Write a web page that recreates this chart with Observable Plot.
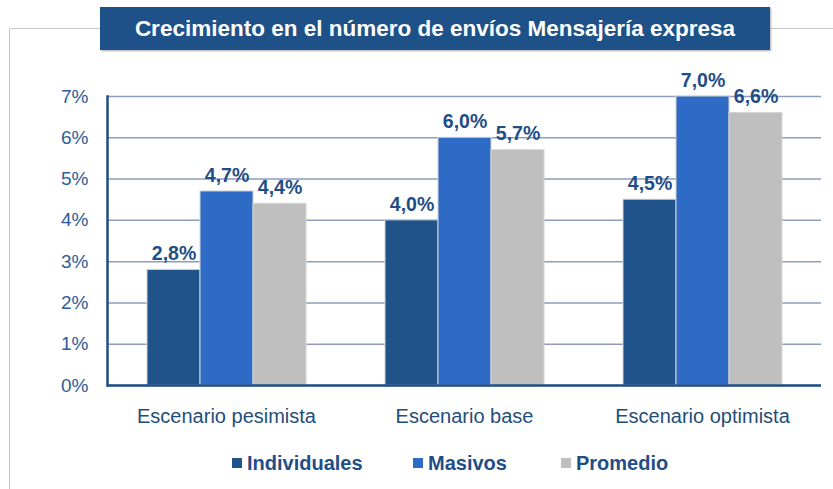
<!DOCTYPE html>
<html><head><meta charset="utf-8">
<script src="https://cdn.jsdelivr.net/npm/d3@7"></script>
<script src="https://cdn.jsdelivr.net/npm/@observablehq/plot@0.6"></script>
<style>
body{margin:0;background:#fff;font-family:"Liberation Sans",Arial,sans-serif;}
#wrap{position:relative;width:833px;height:489px;overflow:hidden;}
#frame{position:absolute;left:9px;top:28px;width:900px;height:500px;border-left:1.5px solid #c8c8c8;border-top:1.5px solid #c8c8c8;}
#title{position:absolute;left:100px;top:7px;width:670px;height:43px;background:#1F5189;color:#fff;font-weight:bold;font-size:22.5px;line-height:43px;text-align:center;box-shadow:1px 1px 2px #aaa;}
#chart{position:absolute;left:0;top:0;}
#legend{position:absolute;top:451px;left:0;width:833px;height:24px;font-weight:bold;font-size:20px;color:#1F4E87;}
.li{position:absolute;top:0;line-height:24px;}
.sw{display:inline-block;width:10px;height:10px;margin-right:5px;vertical-align:2px;}
</style></head>
<body><div id="wrap"><div id="frame"></div><div id="chart"></div><div id="title">Crecimiento en el número de envíos Mensajería expresa</div><div id="legend"></div></div>
<script>
const scenarios = ["Escenario pesimista", "Escenario base", "Escenario optimista"];
const series = ["Individuales", "Masivos", "Promedio"];
const individuales = [2.8, 4.0, 4.5];
const masivos = [4.7, 6.0, 7.0];
const promedio = [4.4, 5.7, 6.6];
const yTicks = [0, 1, 2, 3, 4, 5, 6, 7];
const colors = ["#1F538A", "#2E6BC6", "#BFBFBF"];

const valuesBySeries = [individuales, masivos, promedio];
const data = [];
scenarios.forEach((s, i) => series.forEach((k, j) => data.push({scenario: s, series: k, value: valuesBySeries[j][i]})));
const fmt = v => d3.format(".1f")(v).replace(".", ",") + "%";

const chart = Plot.plot({
  width: 833, height: 489,
  marginTop: 96, marginBottom: 104, marginLeft: 106, marginRight: 11,
  style: {fontFamily: '"Liberation Sans", Arial, sans-serif', background: "transparent", fontSize: "19px", color: "#2E5C99"},
  fx: {domain: scenarios, padding: 0, label: null, axis: null},
  x: {domain: series, paddingInner: 0, paddingOuter: 0.74, axis: null},
  y: {domain: [0, 7], label: null, axis: "left", ticks: yTicks, tickSize: 0, tickPadding: 19, tickFormat: d => d + "%"},
  color: {domain: series, range: colors},
  marks: [
    Plot.gridY(yTicks, {stroke: "#8D9DBD", strokeOpacity: 1, strokeWidth: 1.5}),
    Plot.barY(data, {fx: "scenario", x: "series", y: "value", fill: "series", stroke: "#D4D4D4", strokeWidth: 1}),
    Plot.text(data, {fx: "scenario", x: "series", y: "value", text: d => fmt(d.value), dy: -16, fill: "#1F4E87", fontWeight: "bold", fontSize: 19.5}),
    Plot.ruleY([0], {stroke: "#1F4E87", strokeWidth: 2.5}),
    Plot.frame({anchor: "left", facetAnchor: "left", stroke: "#1F4E87", strokeWidth: 2.5}),
    Plot.axisFx({anchor: "bottom", tickSize: 0, tickPadding: 23, fontSize: 20, fill: "#1F4E79", label: null})
  ]
});
document.getElementById("chart").appendChild(chart);

const legendPos = [232, 413, 561];
const lg = document.getElementById("legend");
series.forEach((s, i) => {
  const d = document.createElement("div");
  d.className = "li";
  d.style.left = legendPos[i] + "px";
  d.innerHTML = `<span class="sw" style="background:${colors[i]}"></span>${s}`;
  lg.appendChild(d);
});
</script></body></html>
